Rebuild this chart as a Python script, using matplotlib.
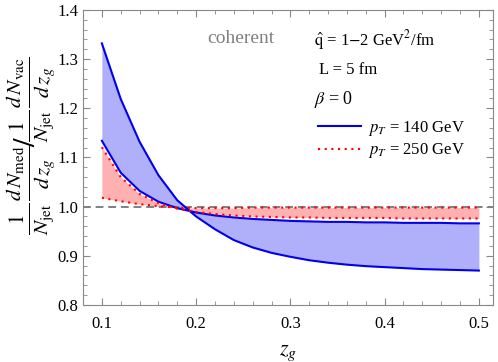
import matplotlib
matplotlib.use('Agg')
import matplotlib.pyplot as plt
import numpy as np
from matplotlib.ticker import MultipleLocator

# z_g grid of the curves
zg = [0.10, 0.12, 0.14, 0.16, 0.18, 0.20, 0.22, 0.24, 0.26, 0.28, 0.30,
      0.32, 0.34, 0.36, 0.38, 0.40, 0.42, 0.44, 0.46, 0.48, 0.50]

# pT = 140 GeV, qhat = 2 and qhat = 1 GeV^2/fm
blue_q2 = [1.332, 1.219, 1.132, 1.064, 1.013, 0.980, 0.954, 0.932, 0.917, 0.906, 0.898,
           0.891, 0.886, 0.882, 0.879, 0.877, 0.875, 0.873, 0.872, 0.871, 0.870]
blue_q1 = [1.134, 1.069, 1.032, 1.010, 0.997, 0.988, 0.982, 0.978, 0.975, 0.973, 0.971,
           0.970, 0.969, 0.969, 0.968, 0.968, 0.967, 0.967, 0.967, 0.966, 0.966]

# pT = 250 GeV, qhat = 2 and qhat = 1 GeV^2/fm
red_q2 = [1.121, 1.060, 1.026, 1.007, 0.996, 0.989, 0.985, 0.982, 0.980, 0.979, 0.978,
          0.978, 0.977, 0.977, 0.977, 0.977, 0.976, 0.976, 0.976, 0.976, 0.976]
red_q1 = [1.018, 1.011, 1.005, 1.001, 0.998, 0.997, 0.997, 0.997, 0.998, 0.998, 0.998,
          0.998, 0.998, 0.998, 0.998, 0.998, 0.998, 0.998, 0.998, 0.998, 0.998]

plt.rcParams['font.family'] = 'Liberation Serif'
plt.rcParams['mathtext.fontset'] = 'stix'

fig = plt.figure(figsize=(4.98, 3.62), dpi=100)
ax = fig.add_axes([0.1667, 0.1575, 0.8233, 0.815])

ax.fill_between(zg, blue_q2, blue_q1, color='#b0b0fa', lw=0)
ax.fill_between(zg, red_q2, red_q1, color='#ffb0b0', lw=0)

ax.axhline(1.0, color='gray', ls=(0, (4, 2.5)), lw=1.4, zorder=3)

l1, = ax.plot(zg, blue_q2, color='#0000ee', lw=1.5, zorder=4)
ax.plot(zg, blue_q1, color='#0000ee', lw=1.5, zorder=4)
l2, = ax.plot(zg, red_q2, color='red', lw=1.5, ls=(0, (1, 2.2)), zorder=5)
ax.plot(zg, red_q1, color='red', lw=1.5, ls=(0, (1, 2.2)), zorder=5)

ax.set_xlim(0.08, 0.515)
ax.set_ylim(0.8, 1.4)
ax.xaxis.set_major_locator(MultipleLocator(0.1))
ax.xaxis.set_minor_locator(MultipleLocator(0.02))
ax.yaxis.set_major_locator(MultipleLocator(0.1))
ax.yaxis.set_minor_locator(MultipleLocator(0.02))
ax.tick_params(which='both', direction='in', top=True, right=True,
               colors='#888888', labelcolor='black', labelsize=12)
ax.tick_params(which='major', length=5, width=0.8)
ax.tick_params(which='minor', length=3, width=0.6)
ax.tick_params(axis='x', pad=8)
for s in ax.spines.values():
    s.set_color('#888888')

ax.set_xlabel(r'$z_g$', fontsize=16, labelpad=8)
ax.set_ylabel(r'$\frac{1}{N_{\rm jet}}\frac{d\,N_{\rm med}}{d\,z_g}\!/\!\frac{1}{N_{\rm jet}}\frac{d\,N_{\rm vac}}{d\,z_g}$',
              fontsize=22)
ax.yaxis.set_label_coords(-0.06, 0.54)

ax.text(0.248, 1.342, 'coherent', color='gray', fontsize=14, ha='center', va='center')
ax.text(0.325, 1.339, r'$\hat{\rm q}$ = 1$-$2 GeV$^2$/fm', fontsize=12, va='center')
ax.text(0.33, 1.278, 'L = 5 fm', fontsize=12, va='center')
ax.text(0.325, 1.217, r'$\beta$ = 0', fontsize=13, va='center')

ax.legend([l1, l2], [r'$p_T$ = 140 GeV', r'$p_T$ = 250 GeV'],
          loc='upper left', bbox_to_anchor=(0.573, 0.63), frameon=False,
          fontsize=12, handlelength=2.6, handletextpad=0.4, labelspacing=0.2,
          borderaxespad=0, borderpad=0)

plt.savefig('out.png', dpi=100)
